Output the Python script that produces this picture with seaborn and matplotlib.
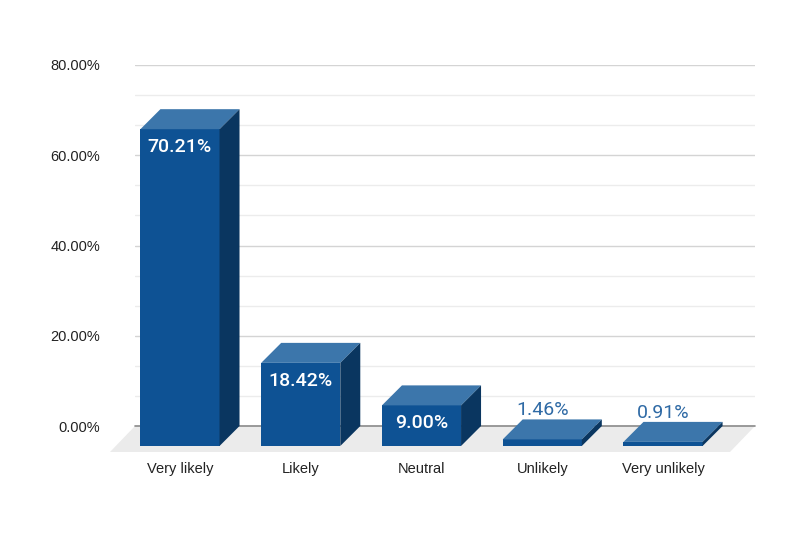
import matplotlib
matplotlib.use("Agg")
import matplotlib.pyplot as plt
from matplotlib.patches import Polygon
from matplotlib.ticker import MultipleLocator
import pandas as pd
import seaborn as sns

categories = ["Very likely", "Likely", "Neutral", "Unlikely", "Very unlikely"]
values = [70.21, 18.42, 9.00, 1.46, 0.91]
value_labels = ["70.21%", "18.42%", "9.00%", "1.46%", "0.91%"]
y_ticks = [0, 20, 40, 60, 80]
y_tick_labels = ["0.00%", "20.00%", "40.00%", "60.00%", "80.00%"]

FRONT = "#0e5294"
TOP = "#3c76ab"
SIDE = "#0a3660"
FLOOR = "#ebebeb"

sns.set_theme(style="white")
plt.rcParams['font.family'] = ['Liberation Sans', 'DejaVu Sans']

W, H = 804, 534
fig = plt.figure(figsize=(W / 100, H / 100), dpi=100)
ax_left, ax_right, ax_top, ax_bottom = 135, 755, 65, 426
ax = fig.add_axes([ax_left / W, 1 - ax_bottom / H, (ax_right - ax_left) / W, (ax_bottom - ax_top) / H])

df = pd.DataFrame({"cat": categories, "val": values})
sns.barplot(data=df, x="cat", y="val", color=FRONT, width=0.655, saturation=1,
            ax=ax, zorder=4, linewidth=0)

xlim = (-0.538, 4.596)
ax.set_xlim(*xlim)
ax.set_ylim(0, 80)

ppu_x = (ax_right - ax_left) / (xlim[1] - xlim[0])
ppu_y = (ax_bottom - ax_top) / 80.0
depth_px = 20
ddx = depth_px / ppu_x
ddy = depth_px / ppu_y

# floor
fdx = 25 / ppu_x
fdy = 26 / ppu_y
floor = Polygon([(xlim[0], 0), (xlim[1], 0), (xlim[1] - fdx, -fdy), (xlim[0] - fdx, -fdy)],
                closed=True, facecolor=FLOOR, edgecolor="none", zorder=1, clip_on=False)
ax.add_patch(floor)
ax.axhline(0, color="#8a8a8a", lw=1.2, zorder=2, clip_on=False)

# grid
ax.set_yticks(y_ticks)
ax.set_yticklabels(y_tick_labels)
ax.yaxis.set_minor_locator(MultipleLocator(20 / 3))
ax.grid(axis="y", which="major", color="#d4d4d4", lw=1.0, zorder=0)
ax.grid(axis="y", which="minor", color="#ececec", lw=1.0, zorder=0)
ax.grid(axis="x", visible=False)
ax.set_axisbelow(True)

bars = list(ax.patches[:len(values)])
for i, (p, v, lab) in enumerate(zip(bars, values, value_labels)):
    x0 = p.get_x() - ddx
    w = p.get_width()
    x1 = x0 + w
    p.set_x(x0)
    p.set_y(-ddy)
    p.set_clip_on(False)
    top = Polygon([(x0, v - ddy), (x1, v - ddy), (x1 + ddx, v), (x0 + ddx, v)],
                  closed=True, facecolor=TOP, edgecolor="none", zorder=4, clip_on=False)
    side = Polygon([(x1, -ddy), (x1 + ddx, 0), (x1 + ddx, v), (x1, v - ddy)],
                   closed=True, facecolor=SIDE, edgecolor="none", zorder=4, clip_on=False)
    ax.add_patch(top)
    ax.add_patch(side)
    cx = x0 + w / 2
    if v > 5:
        ax.annotate(lab, (cx, v - ddy), xytext=(0, -18), textcoords="offset pixels",
                    ha="center", va="center", color="white", fontsize=14,
                    fontweight="medium", family=["Roboto", "DejaVu Sans"], zorder=6)
    else:
        ax.annotate(lab, (cx, v), xytext=(0, 9), textcoords="offset pixels",
                    ha="center", va="center", color="#2f6aa5", fontsize=14,
                    family=["Roboto", "DejaVu Sans"], zorder=6)

ax.set_xticks([i - ddx for i in range(len(categories))])
ax.set_xticklabels(categories)
ax.set_xlabel("")
ax.set_ylabel("")
ax.tick_params(axis="y", length=0, pad=25, labelsize=10.5, labelcolor="#222222")
ax.tick_params(axis="x", length=0, pad=26, labelsize=10.5, labelcolor="#222222")
for s in ax.spines.values():
    s.set_visible(False)

fig.savefig("out.png", dpi=100, facecolor="white")
